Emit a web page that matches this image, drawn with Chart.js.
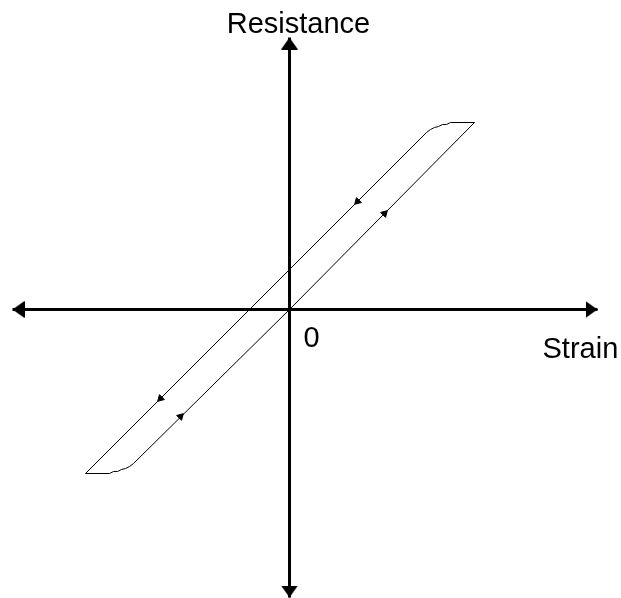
<!DOCTYPE html>
<html>
<head>
<meta charset="utf-8">
<script src="https://cdn.jsdelivr.net/npm/chart.js@4/dist/chart.umd.min.js"></script>
<style>
html,body{margin:0;padding:0;background:#fff;}
canvas{display:block;}
</style>
</head>
<body>
<canvas id="c" width="621" height="598"></canvas>
<script>
// Hysteresis loop (strain vs resistance), units: arbitrary
const loopStrain     = [0, 185, 161, 157, 153, 149, 145, 141, 137, -204, -180, -176, -172, -168, -164, -160, -156, 0];
const loopResistance = [0, 187, 187, 185, 185, 183, 182, 180, 177, -164, -164, -162, -162, -160, -159, -157, -154, 0];

// Direction markers along the loop
const markStrain     = [68, -129, 95, -109];
const markResistance = [108, -89, 96, -107];
const markAngle      = [225, 225, 45, 45];

// Axes extents (tips of the arrows)
const xAxisStrain = [-277, 308];
const yAxisResistance = [272, -288];

// Axis arrowhead centres
const headStrain     = [-271, 302, 0, 0];
const headResistance = [0, 0, 266, -282];
const headAngle      = [270, 90, 0, 180];

// Labels
const labelText = ['Resistance', 'Strain', '0'];
const labelStrain = [9, 253, 14];
const labelResistance = [277, -48, -37];
const labelAlign = ['center', 'left', 'left'];

const xRange = [-289.5, 331.5];
const yRange = [-288.5, 309.5];

// custom arrowhead image (points up)
const arrowImg = document.createElement('canvas');
arrowImg.width = 17; arrowImg.height = 12;
(function(){
  const g = arrowImg.getContext('2d');
  g.fillStyle = '#000';
  g.beginPath();
  g.moveTo(8.5, 0); g.lineTo(17, 12); g.lineTo(0, 12); g.closePath();
  g.fill();
})();

const zip = (a, b) => a.map((v, i) => ({x: v, y: b[i]}));

const labelPlugin = {
  id: 'labels',
  afterDatasetsDraw(chart) {
    const ctx = chart.ctx, xs = chart.scales.x, ys = chart.scales.y;
    ctx.save();
    ctx.fillStyle = '#000';
    ctx.font = '300 29px "Liberation Sans", Arial, sans-serif';
    ctx.textBaseline = 'alphabetic';
    labelText.forEach((t, i) => {
      ctx.textAlign = labelAlign[i];
      ctx.fillText(t, xs.getPixelForValue(labelStrain[i]), ys.getPixelForValue(labelResistance[i]));
    });
    ctx.restore();
  }
};

new Chart(document.getElementById('c'), {
  type: 'scatter',
  data: {
    datasets: [
      {data: zip(xAxisStrain, [0, 0]), showLine: true, borderColor: '#000', borderWidth: 3, pointRadius: 0},
      {data: zip([0, 0], yAxisResistance), showLine: true, borderColor: '#000', borderWidth: 3, pointRadius: 0},
      {data: zip(headStrain, headResistance), showLine: false, pointStyle: arrowImg, rotation: headAngle, pointRadius: 8},
      {data: zip(loopStrain, loopResistance), showLine: true, borderColor: '#000', borderWidth: 1, pointRadius: 0, tension: 0},
      {data: zip(markStrain, markResistance), showLine: false, pointStyle: 'triangle', rotation: markAngle,
       pointRadius: 4, backgroundColor: '#000', borderColor: '#000', borderWidth: 1}
    ]
  },
  options: {
    responsive: false,
    animation: false,
    devicePixelRatio: 1,
    layout: {padding: 0, autoPadding: false},
    plugins: {legend: {display: false}, tooltip: {enabled: false}},
    scales: {
      x: {type: 'linear', display: false, min: xRange[0], max: xRange[1]},
      y: {type: 'linear', display: false, min: yRange[0], max: yRange[1]}
    }
  },
  plugins: [labelPlugin]
});
</script>
</body>
</html>
